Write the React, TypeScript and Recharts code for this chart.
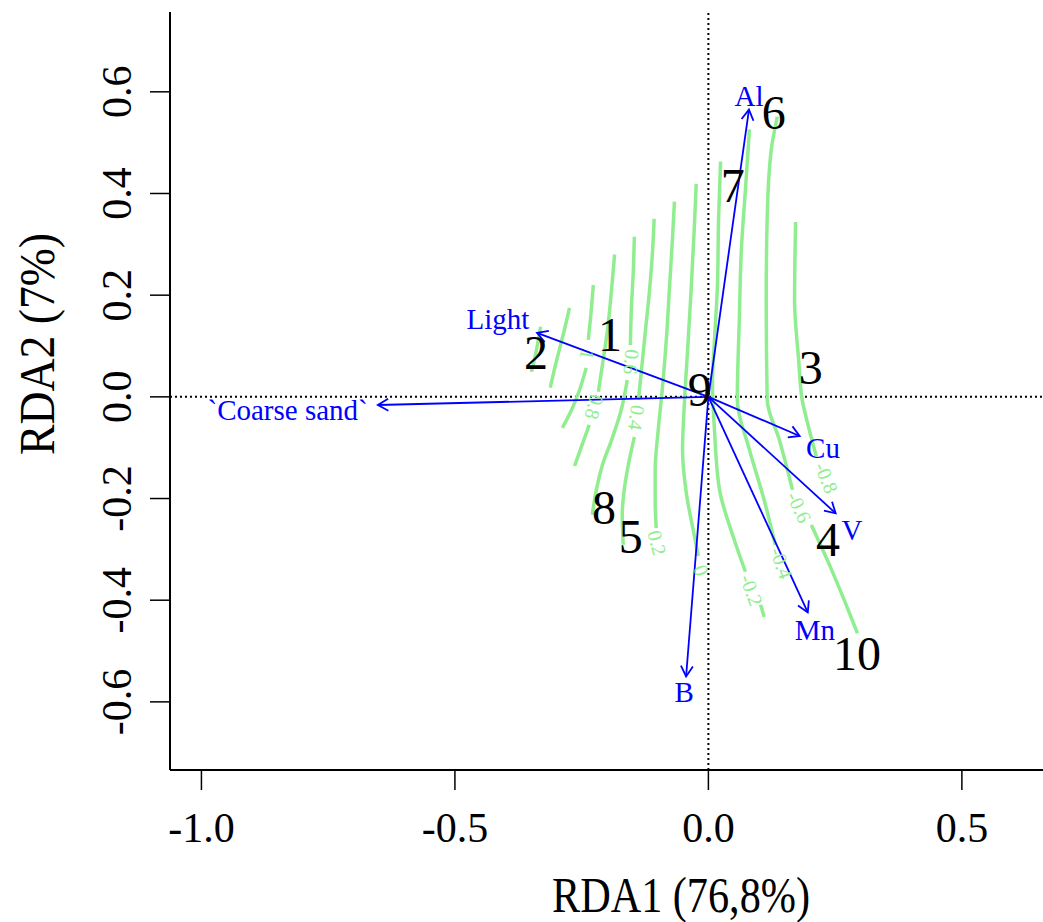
import React from 'react';
import { ComposedChart, Line, Scatter, XAxis, YAxis, ReferenceLine } from 'recharts';

const FONT = '"Liberation Serif", "Times New Roman", Times, serif';
const GREEN = '#90EE90';
const BLUE = '#0000FF';
const INK = '#000000';

const xTicks = [-1, -0.5, 0, 0.5];
const yTicks = [-0.6, -0.4, -0.2, 0, 0.2, 0.4, 0.6];

type P = { x: number; y: number | null };

const lv14: P[] = [
  { x: -0.331, y: 0.138 }, { x: -0.339, y: 0.093 }, { x: -0.349, y: 0.049 },
];
const lv12: P[] = [
  { x: -0.274, y: 0.175 }, { x: -0.284, y: 0.132 }, { x: -0.294, y: 0.093 },
  { x: -0.304, y: 0.053 }, { x: -0.312, y: 0.018 },
];
const lv10: P[] = [
  { x: -0.227, y: 0.22 }, { x: -0.231, y: 0.171 }, { x: -0.237, y: 0.112 },
  { x: -0.239, y: null },
  { x: -0.241, y: 0.057 }, { x: -0.254, y: 0.014 }, { x: -0.27, y: -0.026 }, { x: -0.288, y: -0.061 },
];
const lv08: P[] = [
  { x: -0.185, y: 0.28 }, { x: -0.191, y: 0.211 }, { x: -0.199, y: 0.132 },
  { x: -0.209, y: 0.063 }, { x: -0.217, y: 0.01 },
  { x: -0.225, y: null },
  { x: -0.235, y: -0.055 }, { x: -0.249, y: -0.094 }, { x: -0.264, y: -0.136 },
];
const lv06: P[] = [
  { x: -0.146, y: 0.315 }, { x: -0.148, y: 0.25 }, { x: -0.152, y: 0.171 }, { x: -0.154, y: 0.102 },
  { x: -0.156, y: null },
  { x: -0.16, y: 0.033 }, { x: -0.172, y: -0.026 }, { x: -0.191, y: -0.085 },
  { x: -0.209, y: -0.134 }, { x: -0.221, y: -0.183 }, { x: -0.229, y: -0.232 },
];
const lv04: P[] = [
  { x: -0.107, y: 0.35 }, { x: -0.11, y: 0.289 }, { x: -0.116, y: 0.211 }, { x: -0.124, y: 0.132 },
  { x: -0.132, y: 0.053 }, { x: -0.138, y: -0.006 },
  { x: -0.142, y: null },
  { x: -0.146, y: -0.079 }, { x: -0.156, y: -0.124 }, { x: -0.166, y: -0.183 },
  { x: -0.17, y: -0.232 }, { x: -0.168, y: -0.291 },
];
const lv02: P[] = [
  { x: -0.067, y: 0.384 }, { x: -0.071, y: 0.309 }, { x: -0.077, y: 0.211 }, { x: -0.083, y: 0.112 },
  { x: -0.091, y: 0.014 }, { x: -0.099, y: -0.065 }, { x: -0.105, y: -0.144 },
  { x: -0.105, y: -0.203 }, { x: -0.103, y: -0.258 },
];
const lv00: P[] = [
  { x: -0.024, y: 0.419 }, { x: -0.028, y: 0.329 }, { x: -0.034, y: 0.211 }, { x: -0.041, y: 0.093 },
  { x: -0.047, y: -0.006 }, { x: -0.051, y: -0.104 }, { x: -0.043, y: -0.193 },
  { x: -0.03, y: -0.262 }, { x: -0.02, y: -0.313 },
];
const lvM02: P[] = [
  { x: 0.024, y: 0.463 }, { x: 0.02, y: 0.348 }, { x: 0.018, y: 0.224 }, { x: 0.012, y: 0.112 },
  { x: 0.008, y: 0.028 }, { x: 0.012, y: -0.065 }, { x: 0.022, y: -0.183 },
  { x: 0.051, y: -0.281 }, { x: 0.073, y: -0.344 },
  { x: 0.085, y: null },
  { x: 0.103, y: -0.409 }, { x: 0.11, y: -0.433 },
];
const lvM04: P[] = [
  { x: 0.081, y: 0.526 }, { x: 0.073, y: 0.407 }, { x: 0.065, y: 0.289 }, { x: 0.061, y: 0.152 },
  { x: 0.057, y: -0.006 }, { x: 0.081, y: -0.104 }, { x: 0.11, y: -0.203 }, { x: 0.132, y: -0.291 },
];
const lvM06: P[] = [
  { x: 0.136, y: 0.551 }, { x: 0.124, y: 0.486 }, { x: 0.116, y: 0.354 }, { x: 0.114, y: 0.191 },
  { x: 0.116, y: -0.006 }, { x: 0.14, y: -0.085 }, { x: 0.166, y: -0.183 },
  { x: 0.179, y: null },
  { x: 0.203, y: -0.252 }, { x: 0.239, y: -0.331 }, { x: 0.268, y: -0.4 }, { x: 0.294, y: -0.465 },
];
const lvM08: P[] = [
  { x: 0.172, y: 0.344 }, { x: 0.17, y: 0.191 }, { x: 0.178, y: 0.073 },
  { x: 0.185, y: -0.006 }, { x: 0.199, y: -0.065 }, { x: 0.213, y: -0.118 },
];

const contours = [lv14, lv12, lv10, lv08, lv06, lv04, lv02, lv00, lvM02, lvM04, lvM06, lvM08];

const contourLabels = [
  { x: -0.239, y: 0.083, text: '1', angle: 100 },
  { x: -0.225, y: -0.02, text: '0.8', angle: 105 },
  { x: -0.152, y: 0.069, text: '0.6', angle: 95 },
  { x: -0.142, y: -0.041, text: '0.4', angle: 98 },
  { x: -0.101, y: -0.287, text: '0.2', angle: 75 },
  { x: -0.014, y: -0.341, text: '0', angle: 70 },
  { x: 0.085, y: -0.38, text: '-0.2', angle: 70 },
  { x: 0.144, y: -0.327, text: '-0.4', angle: 70 },
  { x: 0.179, y: -0.217, text: '-0.6', angle: 65 },
  { x: 0.233, y: -0.159, text: '-0.8', angle: 68 },
];

const sites = [
  { x: -0.194, y: 0.124, label: '1' },
  { x: -0.34, y: 0.088, label: '2' },
  { x: 0.202, y: 0.059, label: '3' },
  { x: 0.236, y: -0.28, label: '4' },
  { x: -0.153, y: -0.274, label: '5' },
  { x: 0.129, y: 0.559, label: '6' },
  { x: 0.048, y: 0.417, label: '7' },
  { x: -0.206, y: -0.218, label: '8' },
  { x: -0.017, y: 0.015, label: '9' },
  { x: 0.293, y: -0.504, label: '10' },
];

// environmental vectors: tip and label position
const arrowTips = [
  { name: 'Al', x: 0.08, y: 0.565 },
  { name: 'Light', x: -0.338, y: 0.126 },
  { name: '`Coarse sand`', x: -0.652, y: -0.016 },
  { name: 'Cu', x: 0.18, y: -0.077 },
  { name: 'V', x: 0.251, y: -0.229 },
  { name: 'Mn', x: 0.196, y: -0.424 },
  { name: 'B', x: -0.044, y: -0.55 },
];
const arrowLabels = [
  { x: 0.08, y: 0.593, label: 'Al' },
  { x: -0.415, y: 0.153, label: 'Light' },
  { x: -0.83, y: -0.026, label: '`Coarse sand`' },
  { x: 0.226, y: -0.101, label: 'Cu' },
  { x: 0.283, y: -0.262, label: 'V' },
  { x: 0.21, y: -0.459, label: 'Mn' },
  { x: -0.048, y: -0.581, label: 'B' },
];

function Arrow(props: any) {
  const { x1, y1, x2, y2 } = props;
  const a = Math.atan2(y2 - y1, x2 - x1);
  const len = 12;
  const s = Math.PI / 6;
  const h1 = `${x2 - len * Math.cos(a - s)},${y2 - len * Math.sin(a - s)}`;
  const h2 = `${x2 - len * Math.cos(a + s)},${y2 - len * Math.sin(a + s)}`;
  return (
    <g stroke={BLUE} strokeWidth={1.8} fill="none">
      <line x1={x1} y1={y1} x2={x2} y2={y2} />
      <polyline points={`${h1} ${x2},${y2} ${h2}`} />
    </g>
  );
}

const XTick = ({ x, y, payload }: any) => (
  <text x={x} y={y + 50} textAnchor="middle" fontSize={42} fontFamily={FONT} fill={INK}>
    {payload.value.toFixed(1)}
  </text>
);

const YTick = ({ x, y, payload }: any) => (
  <text transform={`translate(${x - 17},${y}) rotate(-90)`} textAnchor="middle"
    fontSize={42} fontFamily={FONT} fill={INK}>
    {payload.value.toFixed(1)}
  </text>
);

export default function App() {
  return (
    <div style={{ position: 'absolute', left: 0, top: 0, background: '#fff' }}>
      <ComposedChart width={1043} height={922} margin={{ top: 12, right: 0, bottom: 0, left: 0 }}>
        <XAxis
          type="number"
          dataKey="x"
          domain={[-1.062, 0.66]}
          ticks={xTicks}
          allowDataOverflow
          height={152}
          tickSize={20}
          axisLine={{ stroke: INK, strokeWidth: 2 }}
          tickLine={{ stroke: INK, strokeWidth: 1.5 }}
          tick={XTick}
          label={{
            content: () => (
              <text x={681} y={912} textAnchor="middle" fontSize={50} fontFamily={FONT}
                fill={INK} textLength={258} lengthAdjust="spacingAndGlyphs">
                RDA1 (76,8%)
              </text>
            ),
          }}
        />
        <YAxis
          type="number"
          dataKey="y"
          domain={[-0.734, 0.757]}
          ticks={yTicks}
          allowDataOverflow
          width={170}
          tickSize={20}
          axisLine={{ stroke: INK, strokeWidth: 2 }}
          tickLine={{ stroke: INK, strokeWidth: 1.5 }}
          tick={YTick}
          label={{
            content: () => (
              <text transform="translate(54,344) rotate(-90)" textAnchor="middle" fontSize={50}
                fontFamily={FONT} fill={INK} textLength={222} lengthAdjust="spacingAndGlyphs">
                RDA2 (7%)
              </text>
            ),
          }}
        />
        <ReferenceLine x={0} stroke={INK} strokeWidth={2} strokeDasharray="2 3" />
        <ReferenceLine y={0} stroke={INK} strokeWidth={2} strokeDasharray="2 3" />

        {contours.map((c, i) => (
          <Line
            key={i}
            data={c}
            dataKey="y"
            type="monotoneY"
            stroke={GREEN}
            strokeWidth={3.5}
            dot={false}
            activeDot={false}
            connectNulls={false}
            isAnimationActive={false}
          />
        ))}
        <Scatter
          data={contourLabels}
          isAnimationActive={false}
          shape={(p: any) => (
            <text transform={`translate(${p.cx},${p.cy}) rotate(${p.payload.angle})`}
              textAnchor="middle" dy="0.35em" fontSize={20} fontFamily={FONT} fill={GREEN}>
              {p.payload.text}
            </text>
          )}
        />

        {arrowTips.map((a) => (
          <ReferenceLine key={a.name} segment={[{ x: 0, y: 0 }, { x: a.x, y: a.y }]} shape={Arrow} />
        ))}
        <Scatter
          data={arrowLabels}
          isAnimationActive={false}
          shape={(p: any) => (
            <text x={p.cx} y={p.cy} dy="0.35em" textAnchor="middle" fontSize={29}
              fontFamily={FONT} fill={BLUE}>
              {p.payload.label}
            </text>
          )}
        />
        <Scatter
          data={sites}
          isAnimationActive={false}
          shape={(p: any) => (
            <text x={p.cx} y={p.cy} dy="0.35em" textAnchor="middle" fontSize={48}
              fontFamily={FONT} fill={INK}>
              {p.payload.label}
            </text>
          )}
        />
      </ComposedChart>
    </div>
  );
}
